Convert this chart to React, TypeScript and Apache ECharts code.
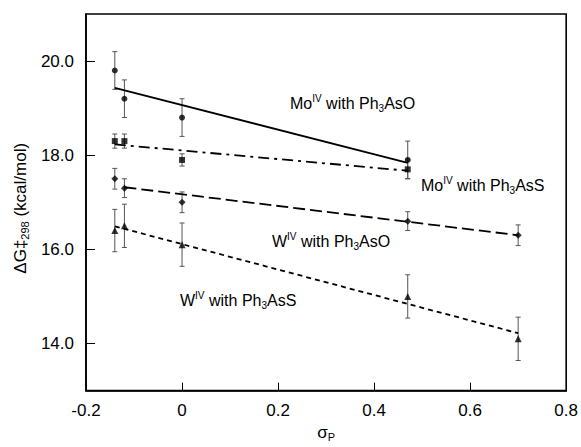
import React, { useEffect, useRef } from "react";
import * as echarts from "echarts";

// ---- data ----
const moAsO_x = [-0.14, -0.12, 0, 0.47];
const moAsO_y = [19.8, 19.2, 18.8, 17.9];
const moAsO_err = [0.4, 0.4, 0.4, 0.4];

const moAsS_x = [-0.14, -0.12, 0, 0.47];
const moAsS_y = [18.3, 18.3, 17.9, 17.7];
const moAsS_err = [0.15, 0.15, 0.13, 0.2];

const wAsO_x = [-0.14, -0.12, 0, 0.47, 0.7];
const wAsO_y = [17.5, 17.3, 17.0, 16.6, 16.3];
const wAsO_err = [0.22, 0.2, 0.22, 0.2, 0.22];

const wAsS_x = [-0.14, -0.12, 0, 0.47, 0.7];
const wAsS_y = [16.4, 16.5, 16.1, 15.0, 14.1];
const wAsS_err = [0.45, 0.46, 0.46, 0.46, 0.46];

// fitted lines (end points)
const moAsO_fit_x = [-0.14, 0.47];
const moAsO_fit_y = [19.43, 17.84];
const moAsS_fit_x = [-0.14, 0.47];
const moAsS_fit_y = [18.23, 17.67];
const wAsO_fit_x = [-0.12, 0.7];
const wAsO_fit_y = [17.32, 16.3];
const wAsS_fit_x = [-0.14, 0.7];
const wAsS_fit_y = [16.49, 14.22];

const yTicks = [14, 16, 18, 20];

const FONT = "'Liberation Sans', Arial, Helvetica, sans-serif";

const pairs = (xs: number[], ys: number[]) => xs.map((x, i) => [x, ys[i]]);

function errorSeries(xs: number[], ys: number[], errs: number[]) {
  return {
    type: "custom",
    silent: true,
    z: 1,
    encode: { x: 0, y: [1, 2] },
    data: xs.map((x, i) => [x, ys[i] - errs[i], ys[i] + errs[i]]),
    renderItem: (_params: any, api: any) => {
      const x = api.value(0);
      const lo = api.coord([x, api.value(1)]);
      const hi = api.coord([x, api.value(2)]);
      const w = 2.5;
      const st = { stroke: "#555", lineWidth: 1 };
      return {
        type: "group",
        children: [
          { type: "line", shape: { x1: lo[0], y1: lo[1], x2: hi[0], y2: hi[1] }, style: st },
          { type: "line", shape: { x1: lo[0] - w, y1: lo[1], x2: lo[0] + w, y2: lo[1] }, style: st },
          { type: "line", shape: { x1: hi[0] - w, y1: hi[1], x2: hi[0] + w, y2: hi[1] }, style: st },
        ],
      };
    },
  };
}

function scatter(xs: number[], ys: number[], symbol: string, size: number) {
  return {
    type: "scatter",
    data: pairs(xs, ys),
    symbol,
    symbolSize: size,
    itemStyle: { color: "#000" },
    z: 3,
    silent: true,
  };
}

function fit(xs: number[], ys: number[], type: any) {
  return {
    type: "line",
    data: pairs(xs, ys),
    showSymbol: false,
    symbol: "none",
    lineStyle: { color: "#000", width: 1.8, type },
    z: 2,
    silent: true,
  };
}

const richMain = {
  a: { fontSize: 16, lineHeight: 20, fontFamily: FONT, fill: "#000", color: "#000" },
  sup: { fontSize: 10, lineHeight: 10, verticalAlign: "top", fontFamily: FONT, color: "#000" },
  sub: { fontSize: 10, lineHeight: 10, verticalAlign: "bottom", fontFamily: FONT, color: "#000" },
};

function label(x: number, y: number, metal: string, reagent: string) {
  return {
    type: "text",
    x,
    y,
    silent: true,
    style: {
      text: `{a|${metal}}{sup|IV}{a| with Ph}{sub|3}{a|${reagent}}`,
      rich: richMain,
      verticalAlign: "middle",
      align: "left",
      fill: "#000",
    },
  };
}

export default function App() {
  const ref = useRef<HTMLDivElement>(null);
  useEffect(() => {
    document.body.style.margin = "0";
    if (!ref.current) return;
    const chart = echarts.init(ref.current, undefined, { renderer: "svg" });
    chart.setOption({
      animation: false,
      backgroundColor: "#fff",
      textStyle: { fontFamily: FONT },
      grid: {
        left: 86,
        right: 14,
        top: 14,
        bottom: 50,
        show: true,
        borderColor: "#000",
        borderWidth: 1.6,
        containLabel: false,
      },
      xAxis: {
        type: "value",
        min: -0.2,
        max: 0.8,
        interval: 0.2,
        name: "{a|σ}{sub|P}",
        nameLocation: "middle",
        nameGap: 31,
        nameTextStyle: {
          rich: {
            a: { fontSize: 17, lineHeight: 20, fontFamily: FONT, color: "#000" },
            sub: { fontSize: 11, lineHeight: 11, verticalAlign: "bottom", fontFamily: FONT, color: "#000" },
          },
        },
        axisLine: { show: true, onZero: false, lineStyle: { color: "#000", width: 1.6 } },
        axisTick: { show: true, inside: true, length: 8, lineStyle: { color: "#000", width: 1 } },
        axisLabel: {
          color: "#000",
          fontSize: 17,
          fontFamily: FONT,
          margin: 11,
          formatter: (v: number) => String(Math.round(v * 10) / 10),
        },
        splitLine: { show: false },
      },
      yAxis: {
        type: "value",
        min: 13,
        max: 21,
        interval: 1,
        name: "{a|ΔG‡}{sub|298}{a| (kcal/mol)}",
        nameLocation: "middle",
        nameRotate: 90,
        nameGap: 51,
        nameTextStyle: {
          padding: [0, 12, 0, 0],
          rich: {
            a: { fontSize: 17, lineHeight: 20, fontFamily: FONT, color: "#000" },
            sub: { fontSize: 11, lineHeight: 11, verticalAlign: "bottom", fontFamily: FONT, color: "#000" },
          },
        },
        axisLine: { show: true, onZero: false, lineStyle: { color: "#000", width: 1.6 } },
        axisTick: {
          show: true,
          inside: true,
          length: 9,
          customValues: yTicks,
          lineStyle: { color: "#000", width: 1 },
        },
        axisLabel: {
          color: "#000",
          fontSize: 17,
          fontFamily: FONT,
          margin: 12,
          customValues: yTicks,
          formatter: (v: number) => v.toFixed(1),
        },
        splitLine: { show: false },
      },
      series: [
        errorSeries(moAsO_x, moAsO_y, moAsO_err),
        errorSeries(moAsS_x, moAsS_y, moAsS_err),
        errorSeries(wAsO_x, wAsO_y, wAsO_err),
        errorSeries(wAsS_x, wAsS_y, wAsS_err),
        fit(moAsO_fit_x, moAsO_fit_y, "solid"),
        fit(moAsS_fit_x, moAsS_fit_y, [11, 5, 3, 5]),
        fit(wAsO_fit_x, wAsO_fit_y, [12, 5]),
        fit(wAsS_fit_x, wAsS_fit_y, [5, 4]),
        scatter(moAsO_x, moAsO_y, "circle", 6),
        scatter(moAsS_x, moAsS_y, "rect", 6),
        scatter(wAsO_x, wAsO_y, "diamond", 7),
        scatter(wAsS_x, wAsS_y, "triangle", 7),
      ],
      graphic: [
        label(290, 103, "Mo", "AsO"),
        label(421, 185, "Mo", "AsS"),
        label(272, 241, "W", "AsO"),
        label(180, 300, "W", "AsS"),
      ],
    });
    return () => chart.dispose();
  }, []);
  return <div ref={ref} style={{ width: 581, height: 447 }} />;
}
